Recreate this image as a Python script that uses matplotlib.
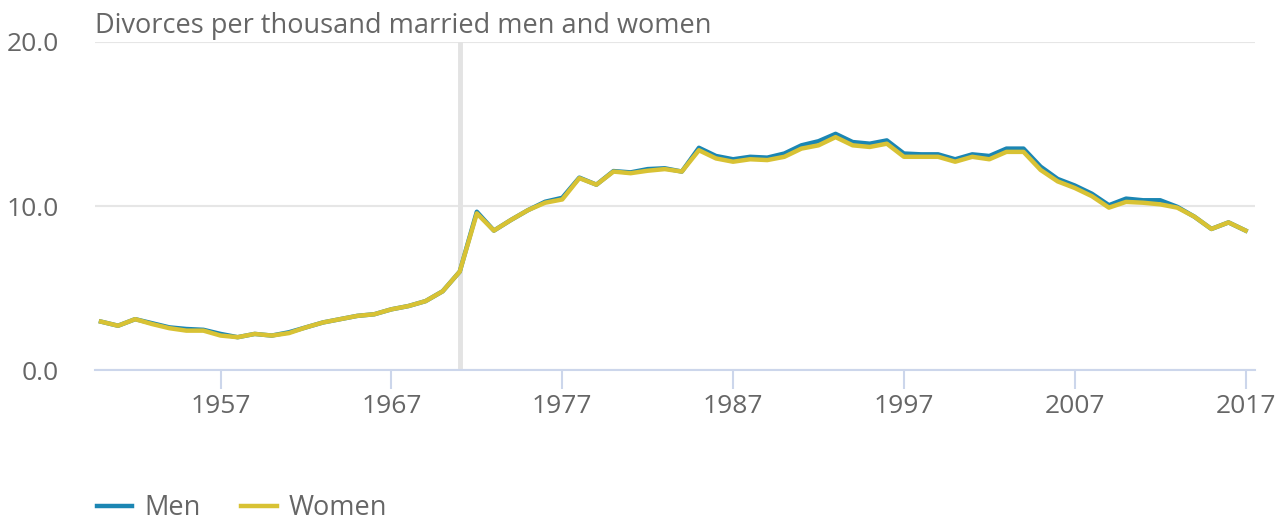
import matplotlib.pyplot as plt
import numpy as np

plt.rcParams["font.family"] = ["Open Sans", "DejaVu Sans"]

years = np.arange(1950, 2018)
men = [2.95, 2.7, 3.1, 2.85, 2.6, 2.5, 2.45, 2.2, 2.0, 2.2,
       2.1, 2.3, 2.6, 2.9, 3.1, 3.3, 3.4, 3.7, 3.9, 4.2,
       4.8, 6.0, 9.65, 8.5, 9.15, 9.75, 10.26, 10.5, 11.73, 11.3,
       12.13, 12.05, 12.25, 12.3, 12.1, 13.55, 13.05, 12.85, 13.0, 12.95,
       13.2, 13.7, 13.95, 14.4, 13.9, 13.8, 14.0, 13.2, 13.15, 13.15,
       12.85, 13.15, 13.05, 13.5, 13.5, 12.4, 11.65, 11.25, 10.75, 10.05,
       10.45, 10.35, 10.35, 9.95, 9.35, 8.6, 9.0, 8.5]
women = [2.95, 2.7, 3.1, 2.8, 2.55, 2.4, 2.4, 2.1, 2.0, 2.2,
         2.1, 2.25, 2.6, 2.9, 3.1, 3.3, 3.4, 3.7, 3.9, 4.2,
         4.8, 6.0, 9.55, 8.5, 9.15, 9.75, 10.2, 10.4, 11.7, 11.3,
         12.1, 12.0, 12.15, 12.25, 12.1, 13.4, 12.9, 12.7, 12.85, 12.8,
         13.0, 13.5, 13.7, 14.2, 13.7, 13.6, 13.8, 13.0, 13.0, 13.0,
         12.7, 13.0, 12.85, 13.3, 13.3, 12.2, 11.5, 11.1, 10.6, 9.9,
         10.25, 10.2, 10.1, 9.9, 9.35, 8.6, 9.0, 8.5]
x_ticks = [1957, 1967, 1977, 1987, 1997, 2007, 2017]
y_ticks = [0, 10, 20]
marker_year = 1971

text_col = "#666666"
fig = plt.figure(figsize=(12.84, 5.24), dpi=100)
ax = fig.add_axes([95 / 1284, 1 - 370 / 524, 1160 / 1284, 328 / 524])

ax.axvline(marker_year, color="#e3e3e3", lw=3.5, zorder=1)
ax.plot(years, men, color="#1b86b3", lw=3.2, label="Men", zorder=3,
        solid_joinstyle="round")
ax.plot(years, women, color="#d8c234", lw=3.2, label="Women", zorder=4,
        solid_joinstyle="round")

ax.set_xlim(1949.65, 2017.55)
ax.set_ylim(0, 20)
ax.set_xticks(x_ticks)
ax.set_yticks(y_ticks)
ax.set_yticklabels(["%.1f" % v for v in y_ticks])
ax.grid(axis="y", color="#e6e6e6", lw=1.5)
ax.set_axisbelow(True)
for s in ["top", "right", "left"]:
    ax.spines[s].set_visible(False)
ax.spines["bottom"].set_color("#ccd6eb")
ax.spines["bottom"].set_linewidth(1.5)
ax.tick_params(axis="x", colors="#ccd6eb", length=14, width=1.5,
               labelcolor=text_col, labelsize=19, pad=3)
ax.tick_params(axis="y", length=0, labelcolor=text_col, labelsize=19, pad=26)

ax.text(0, 1.005, "Divorces per thousand married men and women",
        transform=ax.transAxes, fontsize=19.5, color=text_col,
        ha="left", va="bottom")

fig.legend(loc="center left", bbox_to_anchor=(97 / 1284, 1 - 508 / 524), ncol=2,
           frameon=False, fontsize=19.5, labelcolor=text_col,
           borderpad=0, borderaxespad=0,
           handlelength=1.3, columnspacing=1.5, handletextpad=0.45)

fig.savefig("out.png", dpi=100)
